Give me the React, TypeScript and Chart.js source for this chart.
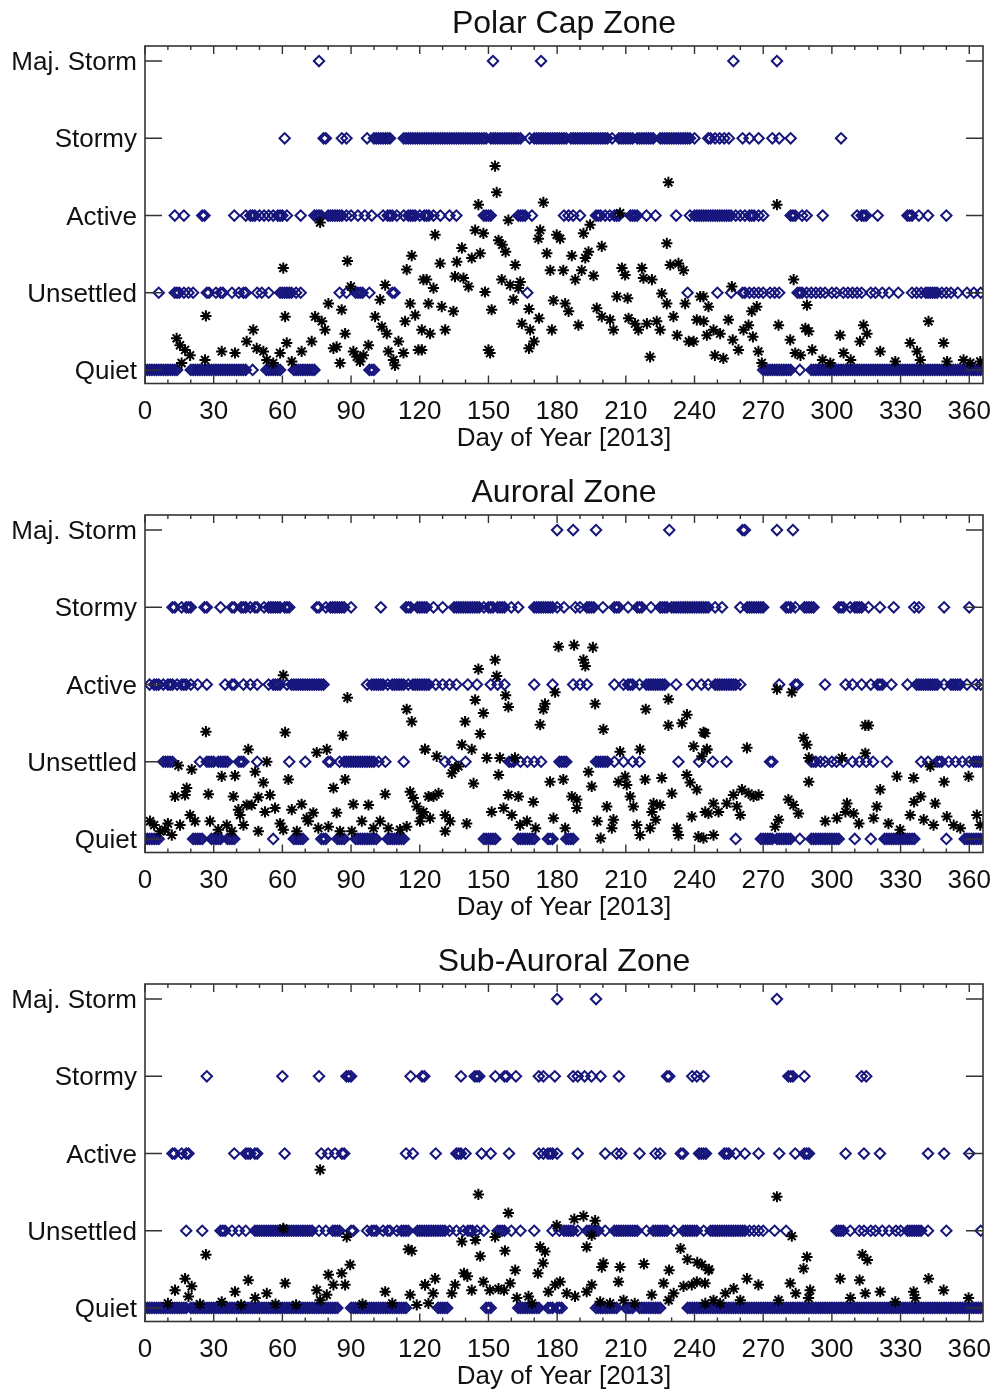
import React, { useEffect, useRef } from "react";
import { Chart, registerables } from "chart.js";

Chart.register(...registerables);

type Entry = number | [number, number];
type Star = [number, number];

// ---------- labels ----------
const LEVEL_LABELS = ["Quiet", "Unsettled", "Active", "Stormy", "Maj. Storm"];
const X_TICKS = [0, 30, 60, 90, 120, 150, 180, 210, 240, 270, 300, 330, 360];
const X_MINOR_STEP = 10;
const X_TITLE = "Day of Year [2013]";
const TITLES = ["Polar Cap Zone", "Auroral Zone", "Sub-Auroral Zone"];

// ---------- Polar Cap Zone ----------
const polarQuiet: Entry[] = [[0, 14], [20, 44], 47, [53, 59], [65, 74], [98, 100], [270, 282], 286, [291, 365]];
const polarUnsettled: Entry[] = [6, [13, 15], 17, 19, 21, [27, 28], 31, [33, 34], 38, 41, [43, 44], 49, 51, 54, [59, 64], 66, 68, 85, 88, [92, 95], 98, [108, 109], 167, 237, 250, 256, [261, 262], 264, 266, 268, 270, 273, 275, 277, [285, 287], 289, 291, 293, 295, 297, 300, 302, 305, 307, 309, 311, 313, 317, 319, 322, 325, 329, 335, 337, 339, [341, 346], 348, 350, 352, 355, 359, 362, 365];
const polarActive: Entry[] = [13, 17, [25, 26], 39, 44, [46, 48], 50, 52, 54, 56, [58, 60], 62, 68, [74, 77], [80, 86], 88, 90, 93, 96, 99, 104, [106, 108], 110, 113, [115, 118], 120, [122, 124], 126, 129, 133, 136, [148, 151], [163, 166], 169, 183, 185, 187, 190, [197, 199], 201, 203, [205, 207], [212, 215], 219, 223, 232, 238, [240, 256], 258, 260, 262, [264, 266], 268, 270, [282, 284], 287, 289, 296, 311, [313, 315], 320, [333, 335], 338, 342, 350];
const polarStormy: Entry[] = [61, [78, 79], 86, 88, 97, [100, 107], [113, 149], 151, [152, 164], 168, [170, 184], [186, 202], 204, [207, 213], [215, 222], [225, 238], 240, [246, 247], 249, 251, 253, 255, 261, 264, 268, 274, 277, 282, 304];
const polarMajor: Entry[] = [76, 152, 173, 257, 276];
const polarStars: Star[] = [
  [13.8, 0.41], [15.3, 0.32], [16, 0.09], [17.5, 0.26], [19.7, 0.19], [26.2, 0.13], [26.6, 0.7], [33.5, 0.24], [39.3, 0.22], [44.4, 0.37], [47.3, 0.52], [48.8, 0.28], [51.7, 0.24], [53.2, 0.13], [56, 0.09], [59, 0.22], [60.4, 1.32], [61.2, 0.69], [61.9, 0.35], [64.1, 0.11], [68.4, 0.24], [72.8, 0.37], [74.3, 0.69], [76.5, 1.91], [77.2, 0.63], [78.6, 0.52], [80.1, 0.86], [82.3, 0.28], [83.7, 0.3], [85.2, 0.09], [85.9, 0.78], [87.4, 0.47], [88.4, 1.41], [89.9, 1.08], [91, 0.24], [92.5, 0.17], [93.9, 0.11], [95.4, 0.19], [97.6, 0.32], [100.5, 0.69], [102.7, 0.91], [103.4, 0.56], [104.9, 1.1], [105.6, 0.47], [106.3, 0.24], [108.5, 0.13], [109.2, 0.06], [110.7, 0.37], [112.9, 0.22], [113.6, 0.63], [114.3, 1.3], [115.8, 0.86], [116.5, 1.48], [118, 0.71], [119.4, 0.26], [120.9, 0.52], [121.6, 1.17],
  [152.9, 2.64], [153.6, 2.3], [145.6, 2.14], [174, 2.17], [228.6, 2.43], [158.7, 1.94], [207.5, 2.03], [194.4, 1.88], [191.5, 1.77], [126.7, 1.75], [144.2, 1.81], [147.8, 1.77], [154.4, 1.68], [156, 1.62], [157.5, 1.53], [172.6, 1.81], [171.8, 1.7], [179.8, 1.75], [181.3, 1.7], [199.5, 1.6], [175.5, 1.51], [227.9, 1.64], [138.4, 1.58], [128.9, 1.38], [136.2, 1.4], [142.7, 1.45], [146.4, 1.51], [186.4, 1.48], [193.7, 1.53], [192.3, 1.45], [161.7, 1.36], [177, 1.29], [182.7, 1.29], [190.7, 1.29], [187.9, 1.17], [195.9, 1.22], [208.3, 1.32], [209.7, 1.23], [217, 1.32], [217.7, 1.19], [221.4, 1.17], [229.4, 1.36], [233, 1.38], [235.2, 1.29], [123, 1.17], [126, 1.06], [135.4, 1.21], [139.1, 1.19], [141.3, 1.08], [155.8, 1.17], [159.5, 1.1], [163.1, 1.06], [163.9, 1.14], [123.8, 0.86], [129.6, 0.82], [134.7, 0.76], [148.5, 1.01], [151.4, 0.78], [160.9, 0.91], [167.7, 0.79], [172.1, 0.67], [164.6, 0.6], [168.2, 0.52], [178.4, 0.9], [183.5, 0.86], [185, 0.76], [189.3, 0.58], [177.7, 0.52], [124.5, 0.47], [131.1, 0.52], [120.9, 0.26], [150, 0.26], [150.7, 0.22], [167.7, 0.28], [169.9, 0.37], [197.3, 0.8], [199.5, 0.69], [203.1, 0.65], [204.6, 0.52], [206.1, 0.95], [210.8, 0.93], [211.2, 0.67], [214, 0.6], [215.5, 0.52], [220.6, 0.17], [219.2, 0.6], [223.5, 0.63], [225, 0.52], [225.7, 0.99], [227.9, 0.86], [230.8, 0.69], [232.4, 0.45], [235.9, 0.86], [237.5, 0.37], [239.6, 0.37], [241, 0.65], [243.9, 0.95], [245.4, 0.45],
  [276, 2.14], [283.3, 1.17], [256.3, 1.08], [289.1, 0.84], [242.5, 0.95], [246.1, 0.82], [244, 0.63], [248.3, 0.52], [254.8, 0.65], [251.2, 0.47], [256.7, 0.39], [248.9, 0.19], [252.6, 0.15], [259.2, 0.26], [261.4, 0.52], [263.6, 0.58], [265, 0.76], [267.2, 0.82], [265.5, 0.43], [267.9, 0.24], [269.4, 0.09], [276.7, 0.58], [281.8, 0.39], [284, 0.22], [286.3, 0.19], [288.4, 0.54], [289.9, 0.5], [291.4, 0.26], [295.9, 0.13], [303.6, 0.45], [305.1, 0.22], [313.8, 0.58], [315.3, 0.47], [312.3, 0.37], [321.1, 0.24], [327.7, 0.11], [334.2, 0.35], [337.2, 0.24], [338.6, 0.13], [342.2, 0.63], [348.8, 0.35], [350.3, 0.11], [357.5, 0.13], [360.4, 0.09], [364.8, 0.11], [308.2, 0.13], [299.3, 0.09]
];

// ---------- Auroral Zone ----------
const auroralQuiet: Entry[] = [[0, 6], [21, 25], [29, 33], [36, 39], 56, [65, 69], [77, 79], [84, 87], [92, 101], [106, 113], [148, 153], [163, 170], [176, 178], [184, 187], 258, [269, 274], [276, 282], 286, [291, 303], 310, 317, [323, 336], 350, [358, 365]];
const auroralUnsettled: Entry[] = [[8, 12], 24, [27, 30], [32, 36], [41, 43], 49, 63, 70, [80, 81], 85, [87, 100], 102, 105, 113, 131, 134, 140, [159, 161], 164, 167, 170, 173, [181, 184], [197, 202], 205, 209, 213, 216, 233, 242, 248, 254, [273, 274], [291, 293], 295, 297, 300, 302, 305, 309, 312, 315, 318, 324, 339, 342, [346, 348], 351, 354, 357, 360, [362, 365]];
const auroralActive: Entry[] = [2, [4, 6], 8, [10, 12], 14, [16, 18], 20, 23, 27, 35, [38, 39], 43, 46, 49, 54, [56, 59], 62, [64, 78], 97, [99, 104], 106, [108, 113], 115, [117, 124], 127, 130, 133, 136, 141, 145, 151, 154, 157, 170, 178, 187, 190, 193, 205, 209, [211, 213], 216, [219, 227], 232, 239, 243, 246, [249, 258], 260, 277, [284, 285], 297, 306, 309, 313, 317, [320, 322], 326, 333, [337, 346], 349, 352, [353, 356], 359, 363, 365];
const auroralStormy: Entry[] = [[12, 13], 16, [18, 20], [26, 27], 33, [38, 39], [42, 44], 46, [48, 49], 52, [54, 59], 61, [62, 63], [75, 76], 79, [81, 87], 90, 103, [114, 116], 119, [120, 123], 126, 130, [135, 146], 148, [150, 152], [154, 157], 160, 163, [170, 178], 180, 183, 188, 190, [193, 196], 200, [205, 207], 211, [215, 217], 221, [225, 228], [230, 242], [243, 246], 249, 252, 260, [263, 270], [280, 282], 284, [288, 292], [303, 305], 308, [310, 313], 316, 321, 327, 336, 338, 349, 360];
const auroralMajor: Entry[] = [180, 187, 197, 229, 261, 262, 276, 283];
const auroralStars: Star[] = [
  [60.4, 2.12], [88.4, 1.83], [114.3, 1.68], [116.5, 1.52], [26.6, 1.39], [61.2, 1.38], [86.4, 1.34], [45.1, 1.16], [75, 1.12], [79.4, 1.16], [122.3, 1.16], [14.6, 0.95], [20.4, 0.9], [53.2, 1.0], [33.5, 0.81], [39.3, 0.82], [48.1, 0.87], [51.7, 0.73], [62.6, 0.77], [87.4, 0.77], [82.3, 0.66], [13.1, 0.55], [17.5, 0.57], [18.2, 0.66], [27.7, 0.58], [38.6, 0.55], [49.5, 0.54], [54.6, 0.57], [46.6, 0.44], [44.4, 0.44], [40.8, 0.38], [41.5, 0.31], [52.4, 0.35], [56.8, 0.4], [64.1, 0.38], [68.4, 0.45], [73.5, 0.34], [70.6, 0.27], [71.3, 0.23], [91, 0.45], [97.6, 0.44], [83.7, 0.34], [104.9, 0.58], [115.8, 0.61], [117.2, 0.53], [118.7, 0.42], [120.9, 0.33], [123.8, 0.55], [2.2, 0.23], [4, 0.18], [6.6, 0.1], [8.7, 0.12], [10, 0.2], [11.7, 0.05], [15.3, 0.18], [19.7, 0.31], [21.8, 0.23], [28.4, 0.23], [32, 0.12], [35.7, 0.18], [37.9, 0.1], [43, 0.18], [49.5, 0.1], [59, 0.2], [60.4, 0.12], [66.3, 0.1], [75.7, 0.14], [80.1, 0.16], [85.2, 0.1], [90.3, 0.1], [94.7, 0.23], [99.8, 0.14], [102.7, 0.23], [106.3, 0.14], [111.4, 0.12], [114.3, 0.16], [120.1, 0.23],
  [180.6, 2.49], [187.4, 2.51], [195.6, 2.48], [191.5, 2.32], [192.3, 2.24], [152.9, 2.32], [145.6, 2.2], [153.6, 2.11], [179.1, 1.9], [157.5, 1.86], [158.7, 1.71], [144.2, 1.8], [147.8, 1.63], [174.7, 1.75], [174, 1.68], [196.6, 1.75], [228.6, 1.81], [218.7, 1.68], [139.8, 1.52], [172.6, 1.48], [200.2, 1.42], [228.6, 1.47], [234.5, 1.5], [236.7, 1.61], [244.6, 1.37], [146.4, 1.36], [122.3, 1.16], [127.4, 1.07], [138.4, 1.22], [142.7, 1.16], [239.6, 1.2], [245.4, 1.16], [207.5, 1.13], [216.2, 1.16], [135.4, 0.92], [134, 0.85], [136.9, 0.94], [149.3, 1.05], [155, 1.05], [161.6, 1.05], [154.4, 0.83], [143.5, 0.72], [176.9, 0.74], [182.7, 0.77], [193.7, 0.87], [195.1, 0.68], [206.8, 0.74], [209.7, 0.81], [210.4, 0.7], [218.4, 0.77], [225.7, 0.79], [230.1, 0.59], [236.6, 0.83], [238.1, 0.73], [241, 0.64], [126, 0.55], [128.2, 0.59], [158.7, 0.57], [163.1, 0.55], [169.6, 0.48], [186.4, 0.55], [188.6, 0.51], [188.6, 0.4], [201.7, 0.42], [211.9, 0.55], [213.3, 0.42], [222.1, 0.46], [221.4, 0.35], [225, 0.44], [223, 0.25], [121.6, 0.35], [124.5, 0.27], [131.1, 0.31], [133.2, 0.23], [140.5, 0.2], [131.1, 0.1], [151.4, 0.35], [156.6, 0.4], [160.2, 0.31], [163.8, 0.18], [166.8, 0.23], [170.6, 0.14], [178.4, 0.27], [183.5, 0.14], [199, 0.01], [197.5, 0.23], [204.6, 0.25], [203.9, 0.14], [214.8, 0.18], [216.2, 0.05], [220.6, 0.14], [232.3, 0.14], [233, 0.05], [238.8, 0.29], [241.7, 0.03], [244.7, 0.35],
  [276, 1.94], [282.5, 1.9], [314.6, 1.47], [316, 1.47], [287.6, 1.31], [289.1, 1.22], [243.9, 1.38], [245.4, 1.16], [262.9, 1.18], [243.2, 1.07], [289.9, 1.05], [304.4, 1.05], [314.6, 1.11], [343, 0.94], [289.9, 0.74], [328.4, 0.81], [335.7, 0.79], [349, 0.74], [359.7, 0.81], [260.7, 0.64], [263.6, 0.59], [265.8, 0.55], [268, 0.57], [257, 0.57], [254.1, 0.46], [248.3, 0.46], [250.5, 0.35], [246.1, 0.33], [260, 0.31], [258.5, 0.42], [281, 0.51], [283.2, 0.44], [285.4, 0.33], [276.7, 0.25], [275.2, 0.16], [306.6, 0.46], [305.9, 0.35], [309.5, 0.33], [321.1, 0.64], [319.6, 0.42], [318.2, 0.27], [338.8, 0.55], [335.9, 0.48], [345.1, 0.46], [334.2, 0.31], [340.1, 0.25], [344.4, 0.18], [350.2, 0.29], [353.2, 0.18], [356.1, 0.14], [363.3, 0.31], [364.8, 0.18], [297.1, 0.23], [302.2, 0.27], [311.8, 0.2], [324.7, 0.2], [329.8, 0.12], [248.3, 0.05], [243.9, 0.01]
];

// ---------- Sub-Auroral Zone ----------
const subQuiet: Entry[] = [[0, 18], [20, 84], [90, 114], [128, 132], [149, 151], [163, 172], [176, 178], [180, 182], [197, 206], [210, 213], [216, 225], [237, 365]];
const subUnsettled: Entry[] = [18, 25, [33, 35], 38, 41, 44, [48, 73], 76, 79, [82, 85], [90, 91], 97, [99, 101], 104, [106, 107], 110, [112, 115], [119, 131], 133, 136, 139, [141, 143], 145, 148, [154, 157], 160, 164, 170, 178, 181, [183, 187], 189, [193, 198], 201, [205, 215], 219, [222, 228], 231, [235, 241], 244, [247, 262], 264, 266, 268, 270, 275, 280, [302, 305], 308, 312, 314, 317, 319, 322, 325, 328, 330, [333, 339], 342, 350, 365];
const subActive: Entry[] = [[12, 13], 16, [18, 19], 39, [44, 46], [48, 49], 61, 77, 80, 83, [86, 87], 114, 117, 127, [136, 138], 140, 147, 151, 159, 172, 174, [176, 178], 180, 189, 201, 206, 208, 216, 223, 225, [234, 235], 245, [242, 244], [253, 255], 258, 262, 268, 277, 284, [288, 290], 306, 314, 321, 342, 349, 360];
const subStormy: Entry[] = [27, 60, 76, 88, 89, 90, 116, 121, 122, 138, 144, 145, 146, 153, 157, 158, 162, 172, 174, 179, 187, 189, 192, 195, 199, 207, 228, 229, 239, 241, 244, 281, 282, 283, 288, 313, 315];
const subMajor: Entry[] = [180, 197, 276];
const subStars: Star[] = [
  [76.5, 1.79], [26.6, 0.69], [115, 0.76], [116.5, 0.74], [88.1, 0.92], [60.4, 1.03], [17.5, 0.38], [13.1, 0.23], [20.4, 0.28], [19, 0.15], [45.1, 0.36], [39.3, 0.21], [61.2, 0.32], [75, 0.23], [80.1, 0.43], [82.3, 0.3], [85.9, 0.45], [87.4, 0.3], [89.6, 0.56], [104.9, 0.21], [122.3, 0.3], [115.8, 0.17], [53.2, 0.19], [48.1, 0.13], [33.5, 0.08], [79.4, 0.17], [76.5, 0.1], [118.7, 0.04], [123.8, 0.06], [10, 0.06], [24, 0.05], [42, 0.04], [57, 0.05], [66, 0.04], [95, 0.05], [108, 0.06],
  [145.6, 1.47], [158.7, 1.23], [152.9, 0.92], [138.4, 0.86], [144.3, 0.88], [146.4, 0.67], [157.2, 0.74], [187.5, 1.15], [191.5, 1.19], [196.6, 1.13], [179.8, 1.07], [195.1, 0.94], [192.9, 0.79], [172.6, 0.79], [174.7, 0.73], [173.9, 0.58], [171.6, 0.45], [161.7, 0.49], [199.5, 0.53], [200.2, 0.58], [207.5, 0.53], [206.8, 0.34], [217.9, 0.57], [228.9, 0.49], [233.9, 0.77], [236.9, 0.63], [241.2, 0.59], [246.3, 0.5], [139.3, 0.45], [140.8, 0.41], [135.4, 0.3], [134, 0.19], [126.7, 0.38], [122.3, 0.3], [125.9, 0.19], [142.7, 0.23], [147.8, 0.34], [150.6, 0.23], [154.4, 0.25], [156.8, 0.23], [159.5, 0.32], [162.4, 0.13], [167.5, 0.15], [169, 0.06], [176.2, 0.21], [179.1, 0.3], [181.3, 0.34], [184.2, 0.19], [187.8, 0.15], [192.9, 0.21], [195.1, 0.3], [198.8, 0.08], [203.1, 0.06], [209, 0.1], [213.9, 0.06], [221.3, 0.17], [226.5, 0.32], [228.7, 0.1], [230.9, 0.19], [235.2, 0.28], [238.8, 0.3], [241, 0.34], [244.7, 0.06],
  [276, 1.44], [282.5, 0.93], [289.1, 0.66], [287.6, 0.51], [313.3, 0.69], [315.5, 0.62], [243.2, 0.56], [246.1, 0.49], [244.6, 0.32], [262.9, 0.38], [267.9, 0.3], [281.8, 0.32], [303.6, 0.38], [312.1, 0.36], [342.2, 0.38], [348.8, 0.23], [257.1, 0.25], [253.5, 0.19], [248.3, 0.1], [251.2, 0.06], [260, 0.1], [276.7, 0.1], [284.2, 0.19], [290.5, 0.23], [289.8, 0.13], [308.1, 0.13], [314.6, 0.19], [321.1, 0.21], [327.7, 0.08], [335.7, 0.21], [336.4, 0.13], [359.7, 0.13]
];

// ---------- rendering ----------
const FONT = "'Liberation Sans', Arial, Helvetica, sans-serif";
const NAVY = "rgb(22, 22, 125)";
const PANEL_W = 998;
const PANEL_H = 469;

function expand(list: Entry[]): number[] {
  const out: number[] = [];
  for (const e of list) {
    if (Array.isArray(e)) {
      for (let d = e[0]; d <= e[1]; d++) out.push(d);
    } else out.push(e);
  }
  return out;
}

interface PanelCfg {
  title: string;
  levels: Entry[][];
  stars: Star[];
}

const PANELS: PanelCfg[] = [
  { title: TITLES[0], levels: [polarQuiet, polarUnsettled, polarActive, polarStormy, polarMajor], stars: polarStars },
  { title: TITLES[1], levels: [auroralQuiet, auroralUnsettled, auroralActive, auroralStormy, auroralMajor], stars: auroralStars },
  { title: TITLES[2], levels: [subQuiet, subUnsettled, subActive, subStormy, subMajor], stars: subStars },
];

function decorPlugin(title: string) {
  return {
    id: "decor",
    afterDraw(chart: any) {
      const { ctx, chartArea: a, scales } = chart;
      const xs = scales.x;
      const ys = scales.y;
      ctx.save();
      ctx.strokeStyle = "#333";
      ctx.lineWidth = 1.6;
      ctx.strokeRect(a.left, a.top, a.right - a.left, a.bottom - a.top);
      ctx.lineWidth = 1.4;
      ctx.beginPath();
      for (let d = X_TICKS[0]; d <= X_TICKS[X_TICKS.length - 1]; d += X_MINOR_STEP) {
        const px = xs.getPixelForValue(d);
        const len = X_TICKS.includes(d) ? 8 : 4;
        ctx.moveTo(px, a.bottom);
        ctx.lineTo(px, a.bottom - len);
        ctx.moveTo(px, a.top);
        ctx.lineTo(px, a.top + len);
      }
      LEVEL_LABELS.forEach((_, v) => {
        const py = ys.getPixelForValue(v);
        ctx.moveTo(a.left, py);
        ctx.lineTo(a.left + 17, py);
        ctx.moveTo(a.right, py);
        ctx.lineTo(a.right - 17, py);
      });
      ctx.stroke();
      ctx.fillStyle = "#111";
      ctx.textAlign = "center";
      ctx.textBaseline = "middle";
      const cx = (a.left + a.right) / 2;
      ctx.font = `32px ${FONT}`;
      ctx.fillText(title, cx, 24);
      ctx.font = `26px ${FONT}`;
      ctx.fillText(X_TITLE, cx, 439);
      ctx.restore();
    },
  };
}

function Panel({ cfg }: { cfg: PanelCfg }) {
  const ref = useRef<HTMLCanvasElement>(null);
  useEffect(() => {
    const diamonds: { x: number; y: number }[] = [];
    cfg.levels.forEach((lst, lvl) => {
      expand(lst).forEach((d) => diamonds.push({ x: d, y: lvl }));
    });
    const stars = cfg.stars.map(([x, y]) => ({ x, y }));
    const chart = new Chart(ref.current as HTMLCanvasElement, {
      type: "scatter",
      data: {
        datasets: [
          {
            label: "daily mean",
            data: stars,
            pointStyle: "star",
            pointRadius: 5.6,
            pointHoverRadius: 5.6,
            pointBorderColor: "#000",
            pointBackgroundColor: "#000",
            pointBorderWidth: 2,
            clip: 0,
          } as any,
          {
            label: "daily max",
            data: diamonds,
            pointStyle: "rectRot",
            pointRadius: 5.2,
            pointHoverRadius: 5.2,
            pointBorderColor: NAVY,
            pointBackgroundColor: "rgba(255,255,255,0)",
            pointBorderWidth: 2,
            clip: 0,
          } as any,
        ],
      },
      options: {
        animation: false,
        responsive: false,
        events: [],
        layout: { padding: { top: 46, right: 15, left: 0, bottom: 0 } },
        plugins: {
          legend: { display: false },
          tooltip: { enabled: false },
          title: { display: false },
        },
        scales: {
          x: {
            type: "linear",
            position: "bottom",
            min: 0,
            max: 366,
            grid: { display: false, drawTicks: false },
            border: { display: false },
            ticks: {
              stepSize: 30,
              includeBounds: false,
              autoSkip: false,
              maxRotation: 0,
              padding: 13,
              color: "#111",
              font: { family: FONT, size: 26 },
              callback: (v: any) => (X_TICKS.includes(Number(v)) ? String(v) : ""),
            },
            afterFit: (s: any) => {
              s.height = PANEL_H - 383.5;
              s.paddingLeft = 0;
              s.paddingRight = 0;
            },
          },
          y: {
            type: "linear",
            min: -0.175,
            max: 4.195,
            grid: { display: false, drawTicks: false },
            border: { display: false },
            afterBuildTicks: (s: any) => {
              s.ticks = LEVEL_LABELS.map((_, i) => ({ value: i }));
            },
            ticks: {
              autoSkip: false,
              padding: 8,
              labelOffset: 2,
              color: "#111",
              font: { family: FONT, size: 26 },
              callback: (v: any) => LEVEL_LABELS[Number(v)] ?? "",
            },
            afterFit: (s: any) => {
              s.width = 145;
              s.paddingTop = 0;
              s.paddingBottom = 0;
            },
          },
        },
      } as any,
      plugins: [decorPlugin(cfg.title)],
    });
    return () => chart.destroy();
  }, [cfg]);
  return (
    <canvas
      ref={ref}
      width={PANEL_W}
      height={PANEL_H}
      style={{ display: "block", width: PANEL_W, height: PANEL_H }}
    />
  );
}

export default function App() {
  return (
    <div style={{ position: "absolute", top: 0, left: 0, width: PANEL_W, background: "#fff" }}>
      {PANELS.map((p) => (
        <Panel key={p.title} cfg={p} />
      ))}
    </div>
  );
}
